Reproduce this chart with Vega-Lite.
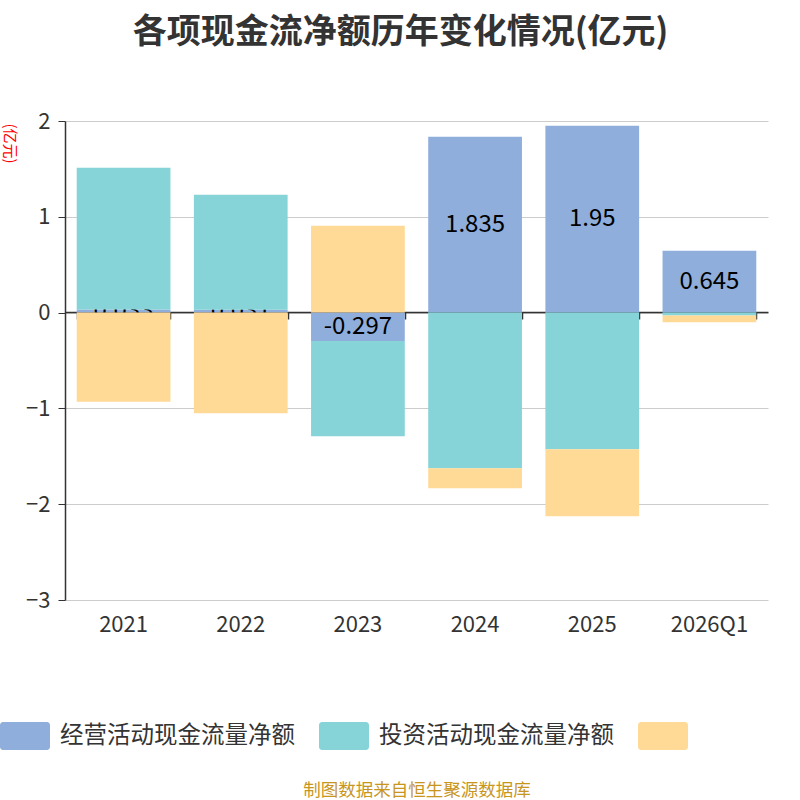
{
  "$schema": "https://vega.github.io/schema/vega-lite/v6.json",
  "autosize": {"type": "none"},
  "width": 703,
  "height": 479,
  "padding": {"left": 65, "top": 121, "right": 32, "bottom": 200},
  "background": "#ffffff",
  "config": {
    "font": "Noto Sans CJK SC",
    "view": {"stroke": null}
  },
  "title": {
    "text": "各项现金流净额历年变化情况(亿元)",
    "fontSize": 34,
    "fontWeight": "bold",
    "color": "#333333",
    "anchor": "middle",
    "dx": -16,
    "offset": 60
  },
  "data": {
    "values": [
      {"year": "2021", "series": "经营活动现金流量净额", "ord": 1, "val": 0.033},
      {"year": "2022", "series": "经营活动现金流量净额", "ord": 1, "val": 0.031},
      {"year": "2023", "series": "经营活动现金流量净额", "ord": 1, "val": -0.297},
      {"year": "2024", "series": "经营活动现金流量净额", "ord": 1, "val": 1.835},
      {"year": "2025", "series": "经营活动现金流量净额", "ord": 1, "val": 1.95},
      {"year": "2026Q1", "series": "经营活动现金流量净额", "ord": 1, "val": 0.645},
      {"year": "2021", "series": "投资活动现金流量净额", "ord": 2, "val": 1.48},
      {"year": "2022", "series": "投资活动现金流量净额", "ord": 2, "val": 1.198},
      {"year": "2023", "series": "投资活动现金流量净额", "ord": 2, "val": -0.995},
      {"year": "2024", "series": "投资活动现金流量净额", "ord": 2, "val": -1.625},
      {"year": "2025", "series": "投资活动现金流量净额", "ord": 2, "val": -1.427},
      {"year": "2026Q1", "series": "投资活动现金流量净额", "ord": 2, "val": -0.03},
      {"year": "2021", "series": "筹资活动现金流量净额", "ord": 3, "val": -0.93},
      {"year": "2022", "series": "筹资活动现金流量净额", "ord": 3, "val": -1.05},
      {"year": "2023", "series": "筹资活动现金流量净额", "ord": 3, "val": 0.906},
      {"year": "2024", "series": "筹资活动现金流量净额", "ord": 3, "val": -0.208},
      {"year": "2025", "series": "筹资活动现金流量净额", "ord": 3, "val": -0.698},
      {"year": "2026Q1", "series": "筹资活动现金流量净额", "ord": 3, "val": -0.07}
    ]
  },
  "transform": [
    {"stack": "val", "groupby": ["year"], "sort": [{"field": "ord", "order": "ascending"}], "as": ["y0", "y1"], "offset": "zero"}
  ],
  "encoding": {
    "x": {
      "field": "year",
      "type": "nominal",
      "sort": null,
      "scale": {"paddingInner": 0.2, "paddingOuter": 0.1}
    }
  },
  "layer": [
    {
      "transform": [{"filter": "datum.ord == 1"}],
      "mark": {"type": "bar"},
      "encoding": {
        "x": {
          "field": "year",
          "type": "nominal",
          "sort": null,
          "axis": {
            "orient": "bottom",
            "domain": false,
            "ticks": false,
            "grid": false,
            "labelFontSize": 22,
            "labelColor": "#333333",
            "labelPadding": 14,
            "labelAngle": 0,
            "title": "制图数据来自恒生聚源数据库",
            "titleColor": "#c8961e",
            "titleFontSize": 17.5,
            "titleFontWeight": "normal",
            "titlePadding": 146
          }
        },
        "y": {
          "field": "y1",
          "type": "quantitative",
          "scale": {"domain": [-3, 2], "nice": false, "zero": false},
          "axis": {
            "values": [-3, -2, -1, 0, 1, 2],
            "format": "d",
            "grid": true,
            "gridColor": "#cccccc",
            "domain": true,
            "domainColor": "#333333",
            "domainWidth": 1.5,
            "ticks": true,
            "tickColor": "#333333",
            "tickSize": 7,
            "labelFontSize": 22,
            "labelColor": "#333333",
            "labelPadding": 8,
            "title": "(亿元)",
            "titleColor": "#ff0000",
            "titleFontSize": 15,
            "titleFontWeight": "normal",
            "titleAngle": 90,
            "titleX": -56,
            "titleY": 22,
            "titleAlign": "center",
            "titleBaseline": "middle"
          }
        },
        "y2": {"field": "y0"},
        "color": {
          "field": "series",
          "type": "nominal",
          "scale": {
            "domain": ["经营活动现金流量净额", "投资活动现金流量净额", "筹资活动现金流量净额"],
            "range": ["#8faedb", "#86d4d8", "#ffd996"]
          },
          "legend": {
            "orient": "none",
            "legendX": -65,
            "legendY": 590,
            "direction": "horizontal",
            "columns": 3,
            "title": null,
            "symbolType": "M-0.88,-0.56 H0.88 A0.12,0.12 0 0 1 1,-0.44 V0.44 A0.12,0.12 0 0 1 0.88,0.56 H-0.88 A0.12,0.12 0 0 1 -1,0.44 V-0.44 A0.12,0.12 0 0 1 -0.88,-0.56 Z",
            "symbolSize": 2500,
            "symbolStrokeWidth": 0,
            "symbolOpacity": 1,
            "labelFontSize": 23.5,
            "labelColor": "#333333",
            "labelOffset": 10,
            "labelLimit": 400,
            "labelExpr": "datum.label == '筹资活动现金流量净额' ? '' : datum.label",
            "columnPadding": 24
          }
        }
      }
    },
    {
      "transform": [
        {"filter": "datum.ord == 1"},
        {"fold": ["y0", "y1"], "as": ["edge", "pos"]}
      ],
      "mark": {"type": "text", "fontSize": 24, "color": "#000000", "baseline": "middle", "align": "center"},
      "encoding": {
        "x": {"field": "year", "type": "nominal", "sort": null, "axis": null},
        "y": {"aggregate": "mean", "field": "pos", "type": "quantitative"},
        "text": {"field": "val", "type": "nominal"}
      }
    },
    {
      "transform": [{"filter": "datum.ord > 1"}],
      "mark": {"type": "bar"},
      "encoding": {
        "x": {
          "field": "year",
          "type": "nominal",
          "sort": null,
          "axis": {
            "orient": "top",
            "offset": -191,
            "labels": false,
            "grid": false,
            "domain": true,
            "domainColor": "#333333",
            "domainWidth": 1.5,
            "ticks": true,
            "tickBand": "extent",
            "tickColor": "#333333",
            "tickWidth": 1.5,
            "tickSize": -7,
            "title": null
          }
        },
        "y": {"field": "y1", "type": "quantitative"},
        "y2": {"field": "y0"},
        "color": {"field": "series", "type": "nominal"}
      }
    }
  ],
  "resolve": {"axis": {"x": "independent"}}
}
